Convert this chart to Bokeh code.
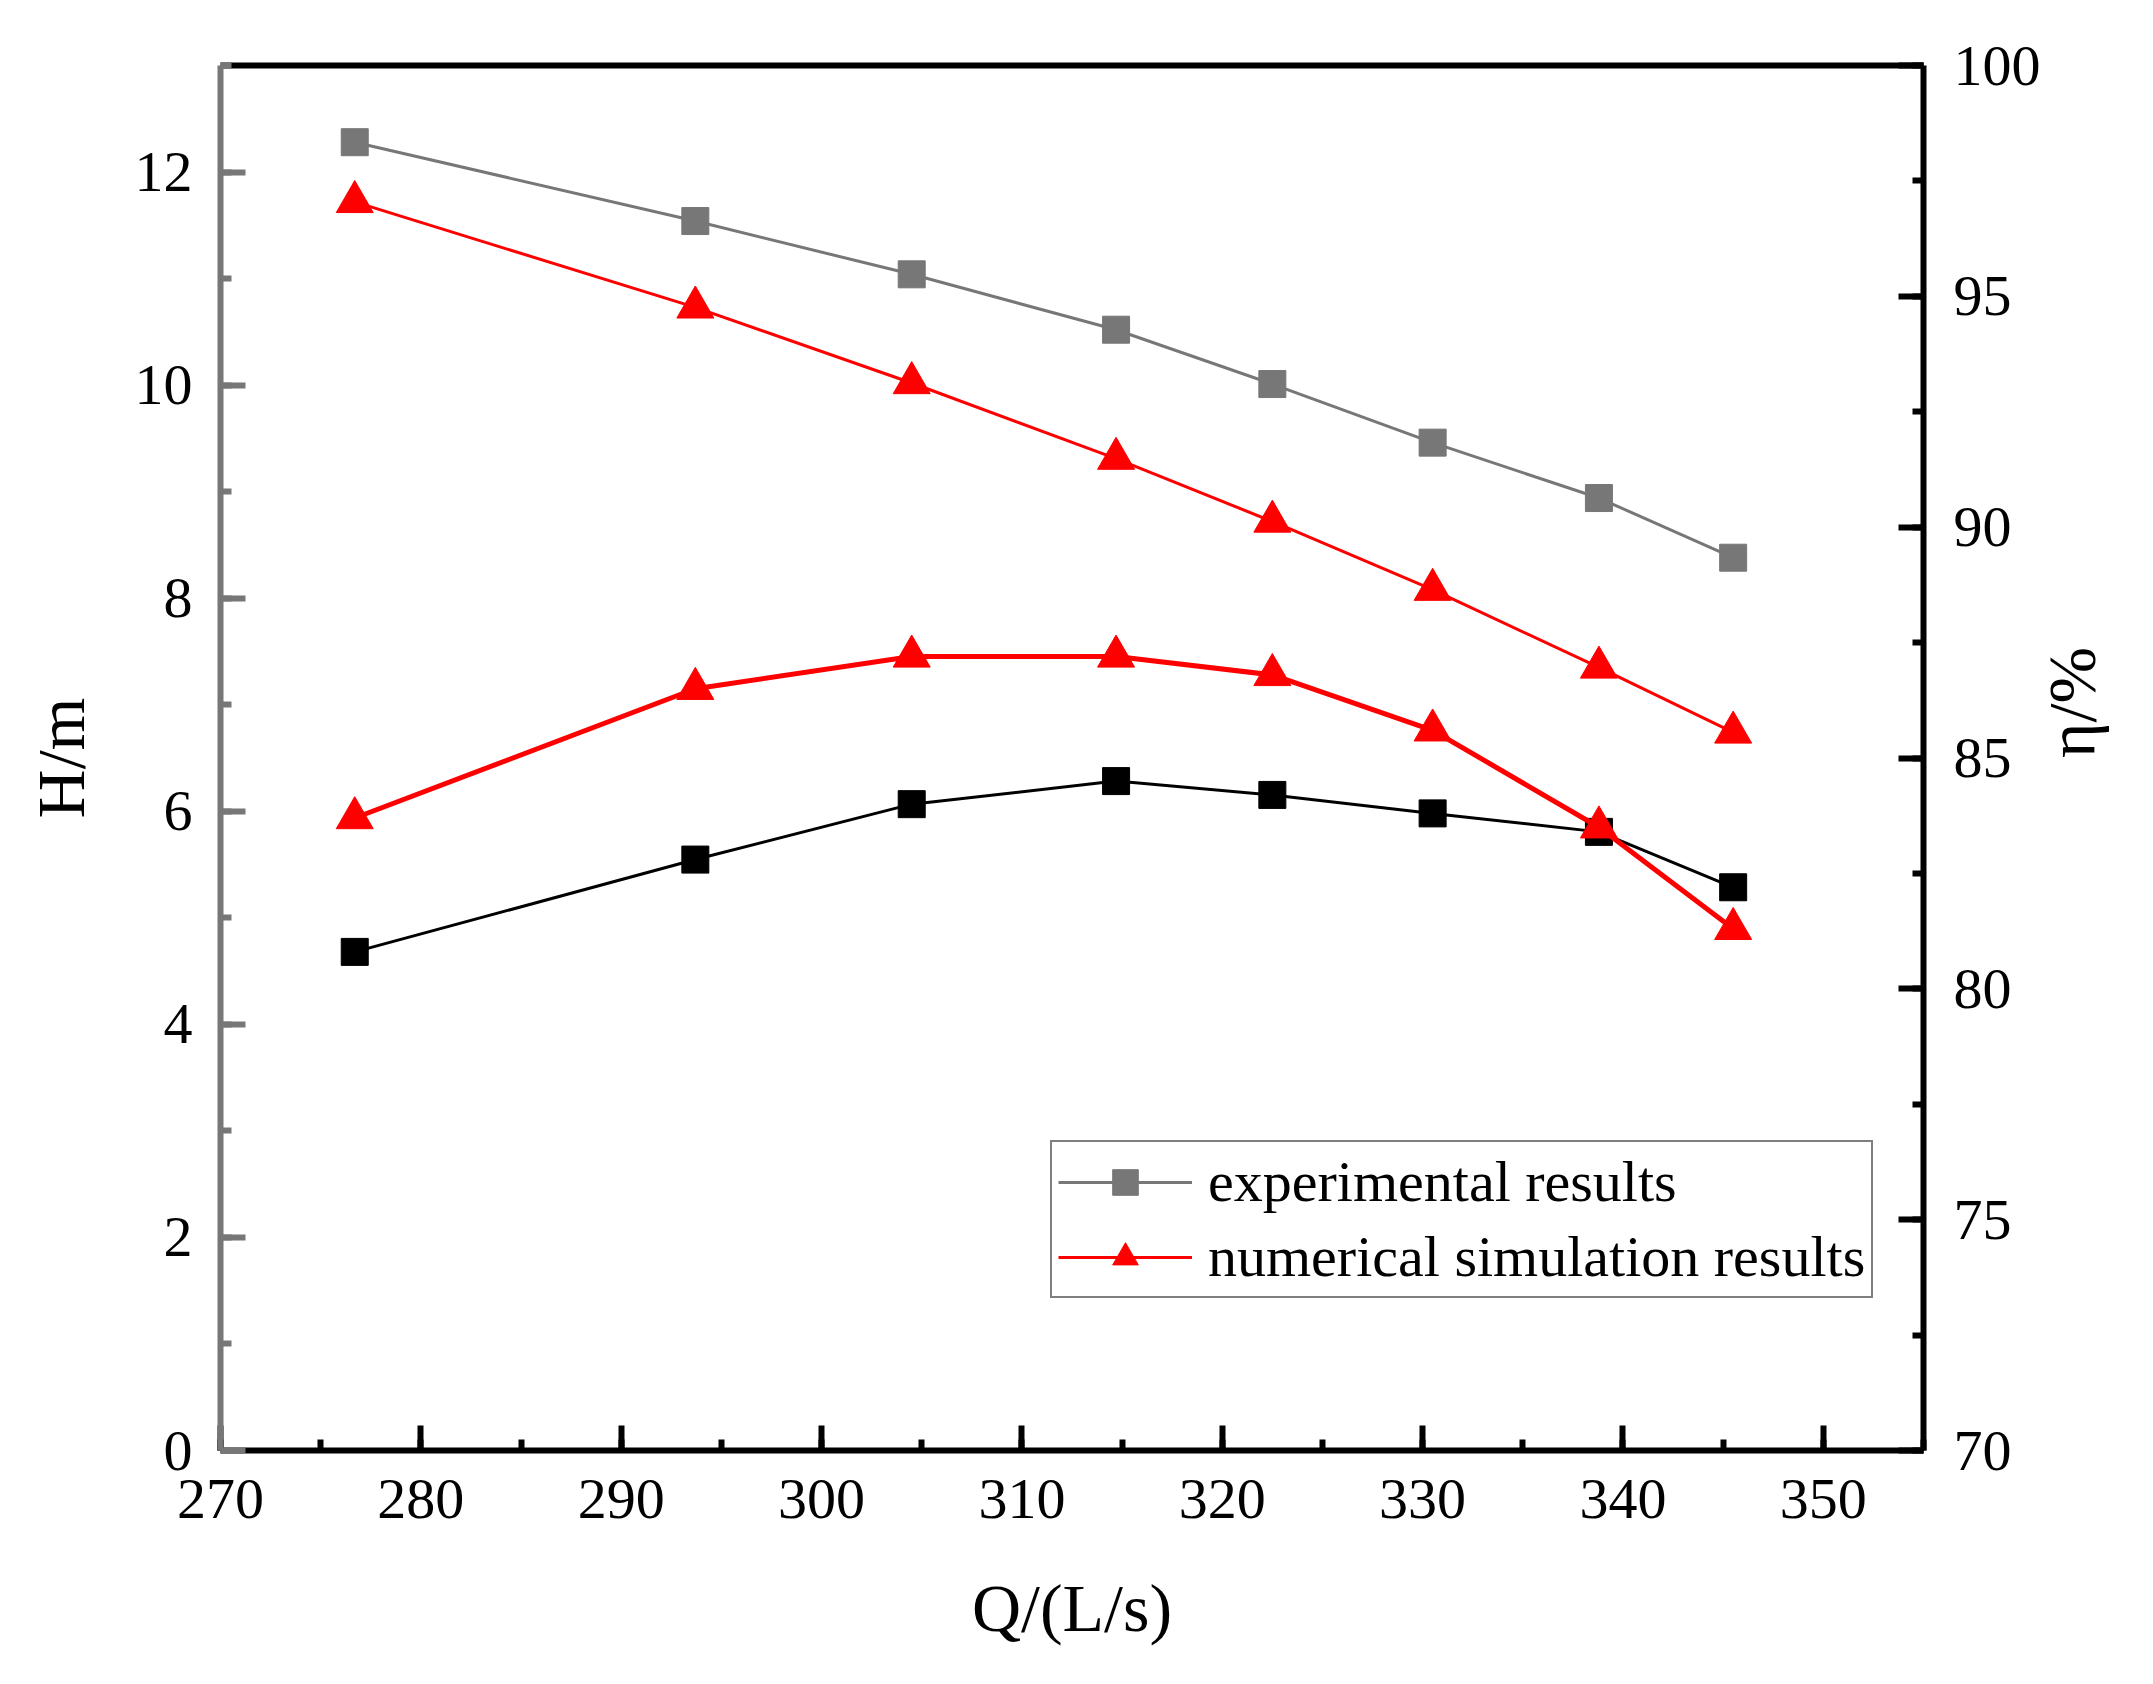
import math
from bokeh.plotting import figure
from bokeh.models import (Range1d, LinearAxis, SingleIntervalTicker, FixedTicker,
                          Legend, LegendItem)
from bokeh.embed import file_html
from bokeh.resources import INLINE

# ---------------- data ----------------
Q = [276.7, 293.7, 304.5, 314.7, 322.5, 330.5, 338.8, 345.5]          # L/s
H_exp = [12.28, 11.54, 11.04, 10.52, 10.01, 9.46, 8.94, 8.38]          # m
H_num = [11.72, 10.73, 10.02, 9.31, 8.72, 8.08, 7.35, 6.74]            # m
eta_exp = [80.8, 82.8, 84.0, 84.5, 84.2, 83.8, 83.4, 82.2]             # %
eta_num = [83.7, 86.5, 87.2, 87.2, 86.8, 85.6, 83.5, 81.3]             # %

X_RANGE = (270, 355)
H_RANGE = (0, 13)
ETA_RANGE = (70, 100)

LEGEND_LABELS = ["experimental results", "numerical simulation results"]
X_TITLE = "Q/(L/s)"
H_TITLE = "H/m"
ETA_TITLE = "\u03b7/%"

# ---------------- style / layout ----------------
FONT = "Liberation Serif"
GREY = "#777777"
RED = "#ff0000"
BLACK = "#000000"
TICK_SIZE = "58px"
TITLE_SIZE = "68px"

FRAME_W, FRAME_H = 1703, 1385
B_L, B_T, B_R, B_B = 220, 65, 228, 226

p = figure(frame_width=FRAME_W, frame_height=FRAME_H,
           x_range=Range1d(*X_RANGE), y_range=Range1d(*H_RANGE),
           output_backend="svg", toolbar_location=None,
           min_border_left=B_L, min_border_top=B_T,
           min_border_right=B_R, min_border_bottom=B_B,
           background_fill_color="white", border_fill_color="white")
p.outline_line_color = None
p.xgrid.visible = False
p.ygrid.visible = False
p.extra_y_ranges = {"eta": Range1d(*ETA_RANGE)}


def style_axis(ax, color):
    ax.axis_line_color = color
    ax.axis_line_width = 6
    ax.major_tick_line_color = color
    ax.minor_tick_line_color = color
    ax.major_tick_line_width = 6
    ax.minor_tick_line_width = 6
    ax.major_tick_in = 25
    ax.major_tick_out = 0
    ax.minor_tick_in = 11
    ax.minor_tick_out = 0
    ax.major_label_text_font = FONT
    ax.major_label_text_font_size = TICK_SIZE
    ax.major_label_text_color = BLACK
    ax.axis_label_text_font = FONT
    ax.axis_label_text_font_size = TITLE_SIZE
    ax.axis_label_text_font_style = "normal"
    ax.axis_label_text_color = BLACK


# bottom axis
xax = p.xaxis[0]
xax.ticker = SingleIntervalTicker(interval=10, num_minor_ticks=2)
style_axis(xax, BLACK)
xax.major_label_standoff = 29
xax.axis_label = X_TITLE
xax.axis_label_standoff = 49

# left axis (head)
yax = p.yaxis[0]
yax.ticker = SingleIntervalTicker(interval=2, num_minor_ticks=2)
style_axis(yax, GREY)
yax.major_label_standoff = 28
yax.axis_label = H_TITLE
yax.axis_label_standoff = 33

# right axis (efficiency)
rax = LinearAxis(y_range_name="eta",
                 ticker=SingleIntervalTicker(interval=5, num_minor_ticks=2))
style_axis(rax, BLACK)
rax.major_label_standoff = 30
rax.axis_label = ETA_TITLE
rax.axis_label_standoff = 28
rax.axis_label_orientation = math.pi / 2
p.add_layout(rax, "right")

# top border axis
tax = LinearAxis(ticker=FixedTicker(ticks=[]))
tax.axis_line_color = BLACK
tax.axis_line_width = 6
tax.major_tick_line_color = None
tax.minor_tick_line_color = None
tax.major_label_text_font_size = "0px"
p.add_layout(tax, "above")

# ---------------- series ----------------
# efficiency (right axis)
l_ee = p.line(Q, eta_exp, y_range_name="eta", line_color=BLACK, line_width=3)
s_ee = p.scatter(Q, eta_exp, y_range_name="eta", marker="square", size=27,
                 fill_color=BLACK, line_color=BLACK)
l_en = p.line(Q, eta_num, y_range_name="eta", line_color=RED, line_width=5)
s_en = p.scatter(Q, eta_num, y_range_name="eta", marker="triangle", size=37,
                 fill_color=RED, line_color=RED)

# head (left axis)
l_he = p.line(Q, H_exp, line_color=GREY, line_width=3)
s_he = p.scatter(Q, H_exp, marker="square", size=27, fill_color=GREY, line_color=GREY)
l_hn = p.line(Q, H_num, line_color=RED, line_width=3)
s_hn = p.scatter(Q, H_num, marker="triangle", size=37, fill_color=RED, line_color=RED)

legend = Legend(items=[LegendItem(label=LEGEND_LABELS[0], renderers=[l_he, s_he]),
                       LegendItem(label=LEGEND_LABELS[1], renderers=[l_hn, s_hn])],
                location=(830, 152))
legend.label_text_font = FONT
legend.label_text_font_size = TICK_SIZE
legend.label_text_color = BLACK
legend.glyph_width = 134
legend.glyph_height = 64
legend.label_standoff = 16
legend.padding = 6
legend.spacing = 8
legend.margin = 0
legend.border_line_color = BLACK
legend.border_line_width = 2
legend.background_fill_color = "white"
legend.background_fill_alpha = 1.0
p.add_layout(legend, "center")

open("out.html", "w").write(file_html(p, INLINE))
